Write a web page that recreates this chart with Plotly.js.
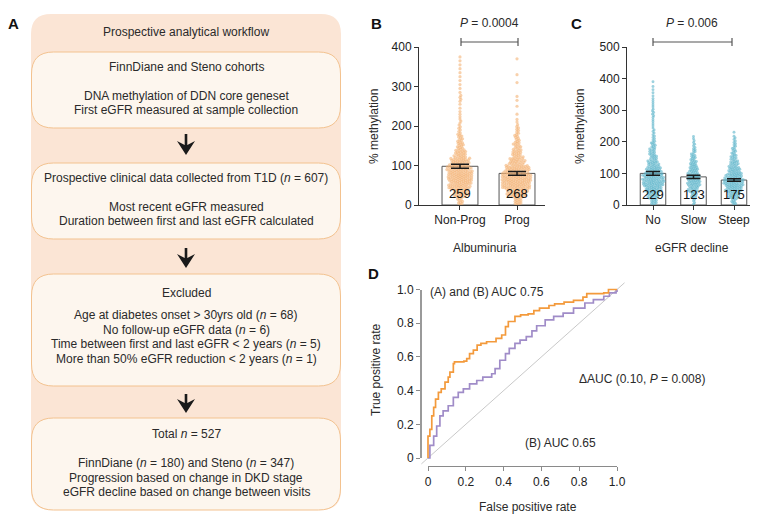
<!DOCTYPE html>
<html>
<head>
<meta charset="utf-8">
<script src="https://cdn.plot.ly/plotly-3.0.1.min.js"></script>
<style>html,body{margin:0;padding:0;background:#fff;}#chart{width:775px;height:528px;}</style>
</head>
<body>
<div id="chart"></div>
<script>
// ---------------- DATA ----------------
// Panel A workflow text
const workflowTitle = "Prospective analytical workflow";
const box1Lines = ["FinnDiane and Steno cohorts", "", "DNA methylation of DDN core geneset", "First eGFR measured at sample collection"];
const box2Lines = ["Prospective clinical data collected from T1D (<i>n</i> = 607)", "", "Most recent eGFR measured", "Duration between first and last eGFR calculated"];
const box3Lines = ["Excluded", "", "Age at diabetes onset &gt; 30yrs old (<i>n</i> = 68)", "No follow-up eGFR data (<i>n</i> = 6)", "Time between first and last eGFR &lt; 2 years (<i>n</i> = 5)", "More than 50% eGFR reduction &lt; 2 years (<i>n</i> = 1)"];
const box4Lines = ["Total <i>n</i> = 527", "", "FinnDiane (<i>n</i> = 180) and Steno (<i>n</i> = 347)", "Progression based on change in DKD stage", "eGFR decline based on change between visits"];

// Panel B (Albuminuria)
const catsB = ["Non-Prog", "Prog"];
const meanB = [98, 80];
const semB = [5, 5];
const nB = [259, 268];
const binLowB = [0,20,40,60,80,100,120,140,160,180,200,220,240,260,280,300,320,340,360];
const countsNonProg = [10,24,38,44,42,32,20,12,9,5,4,3,2,4,2,2,2,2,2];
const countsProg    = [14,34,48,52,42,26,16,12,8,6,3,1,1,2,0,1,1,0,1];
const pTextB = "<i>P</i> = 0.0004";

// Panel C (eGFR decline)
const catsC = ["No", "Slow", "Steep"];
const meanC = [100, 89, 79];
const semC = [6, 5, 4];
const nC = [229, 123, 175];
const binLowC = [0,20,40,60,80,100,120,140,160,180,200,220,240,260,280,300,320,340,360,380];
const countsNo    = [10,18,28,35,34,26,18,12,10,8,5,4,3,3,4,3,3,2,2,1];
const countsSlow  = [4,10,16,22,21,16,12,9,6,4,3,0,0,0,0,0,0,0,0,0];
const countsSteep = [8,18,27,33,28,20,14,10,7,5,4,1,0,0,0,0,0,0,0,0];
const pTextC = "<i>P</i> = 0.006";

// Panel D (ROC)
const fprAB = [0,0,0.01,0.02,0.03,0.04,0.055,0.07,0.09,0.107,0.116,0.134,0.14,0.19,0.205,0.22,0.24,0.26,0.28,0.31,0.36,0.39,0.41,0.425,0.46,0.49,0.53,0.56,0.59,0.64,0.67,0.72,0.77,0.82,0.84,0.93,0.955,1.0];
const tprAB = [0,0.13,0.17,0.25,0.30,0.35,0.39,0.41,0.45,0.48,0.51,0.56,0.57,0.575,0.59,0.62,0.64,0.67,0.68,0.69,0.71,0.73,0.78,0.81,0.84,0.85,0.855,0.875,0.89,0.905,0.915,0.925,0.935,0.955,0.975,0.98,1.0,1.0];
const fprB = [0,0.01,0.03,0.046,0.063,0.08,0.107,0.134,0.16,0.187,0.22,0.258,0.29,0.337,0.355,0.38,0.41,0.43,0.46,0.487,0.52,0.55,0.575,0.62,0.665,0.715,0.77,0.83,0.875,0.93,0.96,0.995,1.0];
const tprB = [0,0.075,0.13,0.19,0.25,0.28,0.31,0.36,0.39,0.41,0.44,0.46,0.48,0.50,0.53,0.58,0.62,0.65,0.68,0.70,0.72,0.755,0.785,0.82,0.84,0.86,0.89,0.92,0.94,0.96,0.98,0.99,1.0];
const chanceLine = [-0.035, 1.04];
const rocTicks = [0, 0.2, 0.4, 0.6, 0.8, 1.0];
const rocTickText = ["0", "0.2", "0.4", "0.6", "0.8", "1.0"];
const labelAB = "(A) and (B) AUC 0.75";
const labelB = "(B) AUC 0.65";
const labelDelta = "\u0394AUC (0.10, <i>P</i> = 0.008)";

// ---------------- HELPERS ----------------
const W = 775, H = 528;
const fx = px => px / W;
const fy = py => 1 - py / H;
const FONT = "Liberation Sans, Arial, sans-serif";

function roundRect(x0, y0, x1, y1, r) {
  const P = (x, y) => fx(x) + "," + fy(y);
  return "M" + P(x0 + r, y0) + " L" + P(x1 - r, y0) + " Q" + P(x1, y0) + " " + P(x1, y0 + r) +
    " L" + P(x1, y1 - r) + " Q" + P(x1, y1) + " " + P(x1 - r, y1) +
    " L" + P(x0 + r, y1) + " Q" + P(x0, y1) + " " + P(x0, y1 - r) +
    " L" + P(x0, y0 + r) + " Q" + P(x0, y0) + " " + P(x0 + r, y0) + " Z";
}
function arrowPath(cx, y0, y1) {
  const P = (x, y) => fx(x) + "," + fy(y);
  const hh = 14;
  return "M" + P(cx - 1.3, y0) + " L" + P(cx + 1.3, y0) + " L" + P(cx + 1.3, y1 - hh + 4) +
    " L" + P(cx + 9, y1 - hh) + " L" + P(cx, y1) + " L" + P(cx - 9, y1 - hh) +
    " L" + P(cx - 1.3, y1 - hh + 4) + " Z";
}
const annotations = [];
const shapes = [];
function ann(px, py, text, o) {
  o = o || {};
  annotations.push(Object.assign({
    xref: "paper", yref: "paper", x: fx(px), y: fy(py), text: text, showarrow: false,
    xanchor: "center", yanchor: "middle",
    font: {family: FONT, size: 12, color: "#2a2a2a"}
  }, o));
}
function line(x0, y0, x1, y1, color, w) {
  shapes.push({type: "line", xref: "paper", yref: "paper", x0: fx(x0), y0: fy(y0), x1: fx(x1), y1: fy(y1),
    line: {color: color, width: w}});
}

// expand histogram bins into values (evenly placed inside each bin)
function expand(lows, counts, width) {
  const vals = [];
  lows.forEach((lo, i) => {
    const n = counts[i];
    for (let k = 0; k < n; k++) vals.push(lo + width * (k + 0.5) / n);
  });
  return vals.sort((a, b) => a - b);
}
// beeswarm: returns x offsets (in axis units)
function swarm(values, d, pxPerY, pxPerX) {
  const pts = [], out = [];
  values.forEach(v => {
    const y = v * pxPerY;
    const near = pts.filter(p => Math.abs(p.y - y) < d);
    const cands = [0];
    near.forEach(p => {
      const dx = Math.sqrt(d * d - (p.y - y) * (p.y - y));
      cands.push(p.x + dx, p.x - dx);
    });
    cands.sort((a, b) => Math.abs(a) - Math.abs(b));
    let chosen = 0;
    for (const c of cands) {
      if (near.every(p => (p.x - c) * (p.x - c) + (p.y - y) * (p.y - y) >= d * d - 1e-6)) { chosen = c; break; }
    }
    pts.push({x: chosen, y: y});
    out.push(chosen / pxPerX);
  });
  return out;
}

// ---------------- PANEL A ----------------
const AX0 = 31, AX1 = 341, ACX = 186;
shapes.push({type: "path", xref: "paper", yref: "paper", path: roundRect(AX0, 14, AX1, 510, 20),
  fillcolor: "#fbe5d5", line: {width: 0}, layer: "below"});
const boxes = [[52, 128], [163, 239], [274, 386], [418, 510]];
boxes.forEach(b => shapes.push({type: "path", xref: "paper", yref: "paper",
  path: roundRect(AX0 + 0.5, b[0], AX1 - 0.5, b[1], 22),
  fillcolor: "#fdf6ee", line: {color: "#f3c28f", width: 1}, layer: "below"}));
[[134, 155], [248, 268], [394, 413]].forEach(a => shapes.push({type: "path", xref: "paper", yref: "paper",
  path: arrowPath(ACX, a[0], a[1]), fillcolor: "#1a1a1a", line: {width: 0}}));
ann(ACX, 32, workflowTitle);
function boxText(lines, ys) { lines.forEach((t, i) => { if (t) ann(ACX, ys[i], t); }); }
boxText(box1Lines, [67, 0, 96, 110]);
boxText(box2Lines, [178, 0, 207, 221]);
boxText(box3Lines, [293, 0, 315, 330, 344, 359]);
boxText(box4Lines, [434, 0, 463, 478, 492]);

// panel letters
ann(13, 24, "<b>A</b>", {font: {family: FONT, size: 15, color: "#111"}});
ann(376, 23, "<b>B</b>", {font: {family: FONT, size: 15, color: "#111"}});
ann(576, 23, "<b>C</b>", {font: {family: FONT, size: 15, color: "#111"}});
ann(373, 273, "<b>D</b>", {font: {family: FONT, size: 15, color: "#111"}});

// ---------------- PANELS B & C ----------------
const traces = [];
const dotB = "rgba(244,178,116,0.6)";
const dotC = "rgba(92,180,202,0.6)";

function barPanel(xa, ya, cats, means, sems, groups, dotColor, pxPerY, pxPerX, d, msize, capW) {
  traces.push({type: "bar", x: cats.map((c, i) => i), y: means, width: 0.63, xaxis: xa, yaxis: ya,
    marker: {color: "rgba(255,255,255,1)", line: {color: "#555", width: 1}}, hoverinfo: "skip"});
  groups.forEach((vals, i) => {
    const offs = swarm(vals, d, pxPerY, pxPerX);
    traces.push({type: "scatter", mode: "markers", x: vals.map((v, k) => i + offs[k]), y: vals,
      xaxis: xa, yaxis: ya, marker: {size: msize, color: dotColor}, hoverinfo: "skip", cliponaxis: false});
  });
  traces.push({type: "scatter", mode: "markers", x: cats.map((c, i) => i), y: means, xaxis: xa, yaxis: ya,
    marker: {size: 1, color: "rgba(0,0,0,0)"},
    error_y: {type: "data", array: sems, color: "#1a1a1a", thickness: 1.5, width: capW}, hoverinfo: "skip"});
}

const groupsB = [expand(binLowB, countsNonProg, 20), expand(binLowB, countsProg, 20)];
barPanel("x", "y", catsB, meanB, semB, groupsB, dotB, 158 / 400, 57, 2.15, 3.2, 9);
const groupsC = [expand(binLowC, countsNo, 20), expand(binLowC, countsSlow, 20), expand(binLowC, countsSteep, 20)];
barPanel("x2", "y2", catsC, meanC, semC, groupsC, dotC, 158 / 500, 40.5, 1.95, 2.9, 7);

// n labels in bars
nB.forEach((n, i) => annotations.push({xref: "x", yref: "y domain", x: i, y: 0.07, text: String(n), showarrow: false,
  xanchor: "center", yanchor: "middle", font: {family: FONT, size: 13, color: "#111"}}));
nC.forEach((n, i) => annotations.push({xref: "x2", yref: "y2 domain", x: i, y: 0.065, text: String(n), showarrow: false,
  xanchor: "center", yanchor: "middle", font: {family: FONT, size: 13, color: "#111"}}));

// axis titles / p-values / brackets
ann(374, 127, "% methylation", {textangle: -90});
ann(580, 127, "% methylation", {textangle: -90});
ann(485, 248, "Albuminuria");
ann(692, 248, "eGFR decline");
ann(490, 23, pTextB);
ann(692, 23, pTextC);
line(461, 42, 518, 42, "#555", 1.2); line(461, 38, 461, 46, "#555", 1.2); line(518, 38, 518, 46, "#555", 1.2);
line(653, 42, 732, 42, "#555", 1.2); line(653, 38, 653, 46, "#555", 1.2); line(732, 38, 732, 46, "#555", 1.2);

// ---------------- PANEL D ----------------
traces.push({type: "scatter", mode: "lines", x: [], y: [], xaxis: "x3", yaxis: "y3", hoverinfo: "skip"});
traces.push({type: "scatter", mode: "lines", x: chanceLine, y: chanceLine, xaxis: "x4", yaxis: "y4",
  line: {color: "#c9c9c9", width: 1}, hoverinfo: "skip"});
traces.push({type: "scatter", mode: "lines", x: fprB, y: tprB, xaxis: "x4", yaxis: "y4",
  line: {color: "#a08cc8", width: 1.7, shape: "hv"}, hoverinfo: "skip"});
traces.push({type: "scatter", mode: "lines", x: fprAB, y: tprAB, xaxis: "x4", yaxis: "y4",
  line: {color: "#f39a3c", width: 1.7, shape: "hv"}, hoverinfo: "skip"});

ann(428, 292, labelAB, {xanchor: "left"});
ann(577, 379, labelDelta, {xanchor: "left"});
ann(523, 443, labelB, {xanchor: "left"});
ann(528, 507, "False positive rate");
ann(376, 370, "True positive rate", {textangle: -90});

// ---------------- LAYOUT ----------------
const tickFont = {family: FONT, size: 12, color: "#222"};
const baseAxis = {showgrid: false, zeroline: false, showline: true, linecolor: "#333", linewidth: 1,
  ticks: "outside", ticklen: 4, tickcolor: "#333", tickwidth: 1, tickfont: tickFont, fixedrange: true};

const layout = {
  width: W, height: H, margin: {l: 0, r: 0, t: 0, b: 0},
  paper_bgcolor: "#ffffff", plot_bgcolor: "rgba(0,0,0,0)", showlegend: false,
  font: {family: FONT, size: 12, color: "#222"},
  xaxis: Object.assign({}, baseAxis, {domain: [fx(419), fx(545)], range: [-0.719, 1.491], anchor: "y",
    tickvals: [0, 1], ticktext: catsB}),
  yaxis: Object.assign({}, baseAxis, {domain: [fy(205), fy(47)], range: [0, 400], anchor: "x",
    tickvals: [0, 100, 200, 300, 400]}),
  xaxis2: Object.assign({}, baseAxis, {domain: [fx(627), fx(750)], range: [-0.642, 2.395], anchor: "y2",
    tickvals: [0, 1, 2], ticktext: catsC}),
  yaxis2: Object.assign({}, baseAxis, {domain: [fy(205), fy(47)], range: [0, 500], anchor: "x2",
    tickvals: [0, 100, 200, 300, 400, 500]}),
  xaxis3: Object.assign({}, baseAxis, {domain: [fx(428), fx(617)], range: [0, 1], anchor: "free", position: fy(466),
    linecolor: "#8a8a8a", linewidth: 1.2, tickcolor: "#8a8a8a", tickvals: rocTicks, ticktext: rocTickText}),
  yaxis3: Object.assign({}, baseAxis, {domain: [fy(458), fy(289.5)], range: [0, 1], anchor: "free", position: fx(421),
    linecolor: "#9a9a9a", linewidth: 2.2, tickcolor: "#8a8a8a", tickvals: rocTicks, ticktext: rocTickText}),
  xaxis4: {domain: [fx(415), fx(630)], range: [(415 - 428) / 189, (630 - 428) / 189], anchor: "y4", visible: false, fixedrange: true},
  yaxis4: {domain: [fy(470), fy(280)], range: [-(470 - 458) / 168.5, 1 + (289.5 - 280) / 168.5], anchor: "x4", visible: false, fixedrange: true},
  shapes: shapes,
  annotations: annotations
};

Plotly.newPlot("chart", traces, layout, {displayModeBar: false, staticPlot: true});
</script>
</body>
</html>
